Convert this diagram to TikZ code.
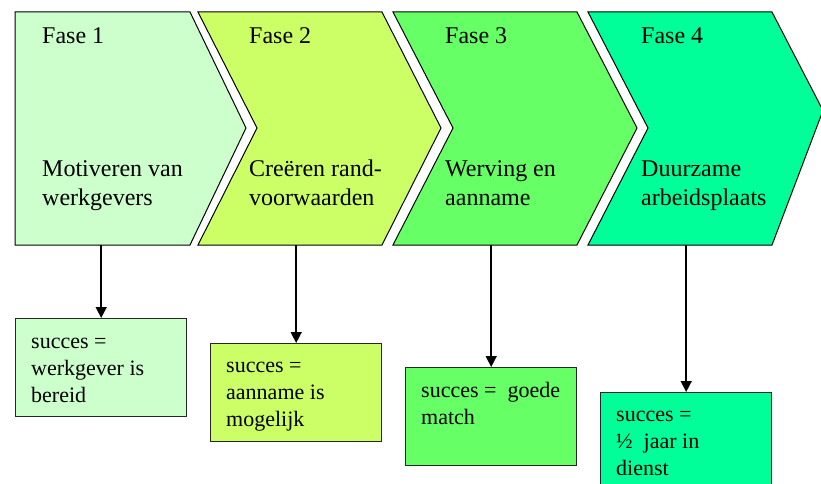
\documentclass[tikz,border=0pt]{standalone}
\usepackage{fontspec}
\setmainfont{Liberation Serif}
\usetikzlibrary{arrows.meta}
\definecolor{cA}{HTML}{CCFFCC}
\definecolor{cB}{HTML}{CCFF66}
\definecolor{cC}{HTML}{66FF66}
\definecolor{cD}{HTML}{00FF99}
\tikzset{
  chev/.style={draw=black, line width=1pt, line join=miter},
  sbox/.style={draw=black!85, line width=1.4pt, rectangle, inner sep=0pt,
    minimum width=171pt, minimum height=98pt, anchor=north west},
  big/.style={anchor=base west, inner sep=0pt, font=\fontsize{24}{29}\selectfont},
  small/.style={anchor=base west, inner sep=0pt, font=\fontsize{22}{27}\selectfont},
  arr/.style={line width=1.5pt, -{Triangle[length=11pt,width=11pt]}}
}
\begin{document}
\begin{tikzpicture}[x=1pt,y=-1pt]
\useasboundingbox (0,0) rectangle (821,484);
\clip (0,0) rectangle (821,484);
% chevrons
\filldraw[chev, fill=cA] (15,12) -- (190,12) -- (246,128) -- (190,245) -- (15,245) -- cycle;
\filldraw[chev, fill=cB] (198,12) -- (382,12) -- (441,128) -- (382,245) -- (198,245) -- (257,128) -- cycle;
\filldraw[chev, fill=cC] (393,12) -- (577,12) -- (637,128) -- (577,245) -- (393,245) -- (453,128) -- cycle;
\filldraw[chev, fill=cD] (588,12) -- (772,12) -- (823,110.5) -- (772,245) -- (588,245) -- (648,128) -- cycle;
% chevron texts
\node[big] (f1) at (42,43.5) {Fase 1};
\node[big] (f2) at (249,43.5) {Fase 2};
\node[big] (f3) at (445,43.5) {Fase 3};
\node[big] (f4) at (641,43.5) {Fase 4};
\node[big] (t1) at (42,176) {\vtop{\hbox{Motiveren van}\hbox{werkgevers}}};
\node[big] (t2) at (249,176) {\vtop{\hbox{Creëren rand-}\hbox{voorwaarden}}};
\node[big] (t3) at (445,176) {\vtop{\hbox{Werving en}\hbox{aanname}}};
\node[big] (t4) at (641,176) {\vtop{\hbox{Duurzame}\hbox{arbeidsplaats}}};
% boxes
\node[sbox, fill=cA] (b1) at (15,318) {};
\node[sbox, fill=cB] (b2) at (210,343) {};
\node[sbox, fill=cC] (b3) at (405,367) {};
\node[sbox, fill=cD] (b4) at (600,392) {};
\node[small] (s1) at (31,348) {\vtop{\hbox{succes =}\hbox{werkgever is}\hbox{bereid}}};
\node[small] (s2) at (226,372) {\vtop{\hbox{succes =}\hbox{aanname is}\hbox{mogelijk}}};
\node[small] (s3) at (421,397) {\vtop{\hbox{succes =\ \ goede}\hbox{match}}};
\node[small] (s4) at (616,421) {\vtop{\hbox{succes =}\hbox{½\ \ jaar in}\hbox{dienst}}};
% anchor points at chevron bottoms, straight above each box
\coordinate (c1) at (b1.north |- 0,245);
\coordinate (c2) at (b2.north |- 0,245);
\coordinate (c3) at (b3.north |- 0,245);
\coordinate (c4) at (b4.north |- 0,245);
% arrows
\draw[arr] (c1) -- (b1.north);
\draw[arr] (c2) -- (b2.north);
\draw[arr] (c3) -- (b3.north);
\draw[arr] (c4) -- (b4.north);
\end{tikzpicture}
\end{document}
